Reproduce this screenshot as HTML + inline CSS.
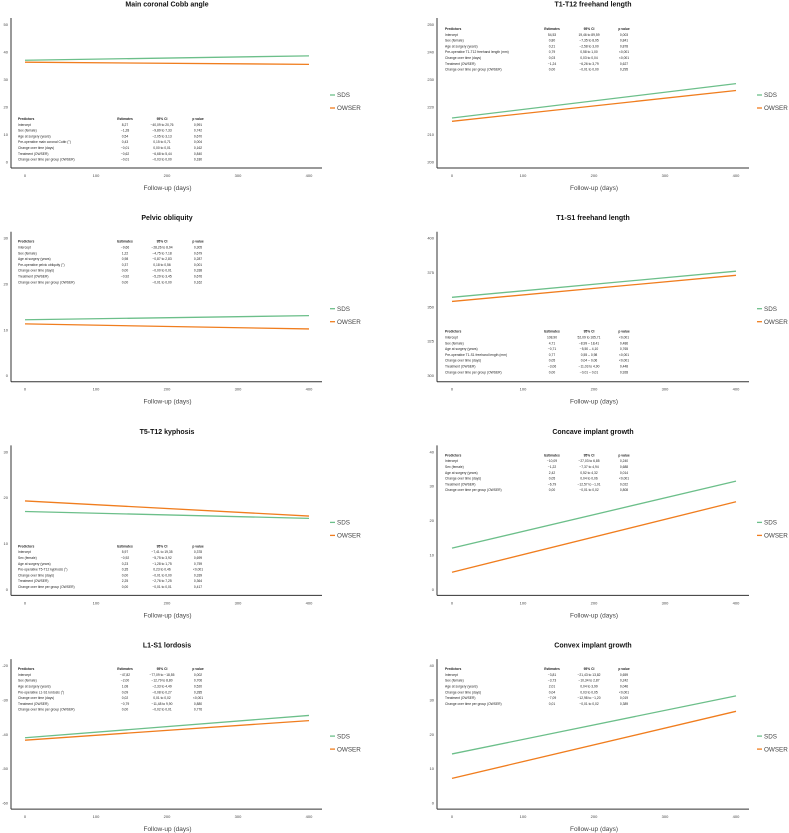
<!DOCTYPE html>
<html><head><meta charset="utf-8"><style>
html,body{margin:0;padding:0;background:#fff}
svg{display:block;font-family:"Liberation Sans",sans-serif}
</style></head><body>
<svg id="fig" width="789" height="833" viewBox="0 0 789 833"></svg>
<script>
const titles=["Main coronal Cobb angle","T1-T12 freehand length","Pelvic obliquity","T1-S1 freehand length","T5-T12 kyphosis","Concave implant growth","L1-S1 lordosis","Convex implant growth"];
const yTicks=[[0,10,20,30,40,50],[200,210,220,230,240,250],[0,10,20,30],[300,325,350,375,400],[0,10,20,30],[0,10,20,30,40],[-60,-50,-40,-30,-20],[0,10,20,30,40]];
const xTicks=[0,100,200,300,400];
const sdsStart=[37,216,12.2,357,17,12,-41,14.3];
const sdsEnd=[38.6,228.5,13.1,376,15.5,31.5,-34.5,31.2];
const owserStart=[36.3,214.8,11.3,354,19.3,5,-41.7,7.2];
const owserEnd=[35.5,226,10.2,373,16,25.5,-36,26.7];
const tableTop=[119,29,28,118,119,28,28,28];
const tableRows=[
[["Intercept","8,27","−40,09 to 20,76","0,991"],["Sex (female)","−1,28","−9,89 to 7,33","0,742"],["Age at surgery (years)","0,54","−2,05 to 3,13","0,670"],["Pre-operative main coronal Cobb (°)","0,43","0,15 to 0,71","0,004"],["Change over time (days)","−0,01","0,00 to 0,01","0,162"],["Treatment (OWSER)","−0,62","−6,68 to 5,44","0,840"],["Change over time per group (OWSER)","−0,01","−0,03 to 0,00","0,180"]],
[["Intercept","54,53","19,46 to 89,59","0,003"],["Sex (female)","0,80","−7,35 to 8,95","0,841"],["Age at surgery (years)","0,21","−2,58 to 3,00","0,878"],["Pre-operative T1-T12 freehand length (mm)","0,79","0,58 to 1,00","<0,001"],["Change over time (days)","0,03","0,03 to 0,04","<0,001"],["Treatment (OWSER)","−1,24","−6,26 to 3,79","0,627"],["Change over time per group (OWSER)","0,00","−0,01 to 0,00","0,295"]],
[["Intercept","−9,66","−28,26 to 8,94","0,305"],["Sex (female)","1,22","−4,75 to 7,18","0,679"],["Age at surgery (years)","0,98","−0,87 to 2,83","0,287"],["Pre-operative pelvic obliquity (°)","0,37","0,18 to 0,56","0,001"],["Change over time (days)","0,00","−0,00 to 0,01","0,338"],["Treatment (OWSER)","−0,92","−5,29 to 3,45","0,676"],["Change over time per group (OWSER)","0,00","−0,01 to 0,00","0,162"]],
[["Intercept","108,90","52,09 to 165,71","<0,001"],["Sex (female)","4,71","−8,99 – 18,41","0,486"],["Age at surgery (years)","−0,71","−5,50 – 4,10","0,765"],["Pre-operative T1-S1 freehand length (mm)","0,77","0,55 – 0,98","<0,001"],["Change over time (days)","0,05","0,04 – 0,06","<0,001"],["Treatment (OWSER)","−3,06","−11,03 to 4,90","0,448"],["Change over time per group (OWSER)","0,00","−0,01 – 0,01","0,928"]],
[["Intercept","5,97","−7,41 to 19,35","0,378"],["Sex (female)","−0,92","−5,75 to 3,92","0,699"],["Age at surgery (years)","0,23","−1,28 to 1,75","0,759"],["Pre-operative T5-T12 kyphosis (°)","0,35","0,23 to 0,46","<0,001"],["Change over time (days)","0,00","−0,01 to 0,00","0,339"],["Treatment (OWSER)","2,25","−2,76 to 7,25","0,364"],["Change over time per group (OWSER)","0,00","−0,01 to 0,01","0,417"]],
[["Intercept","−10,09","−27,03 to 6,85","0,240"],["Sex (female)","−1,22","−7,37 to 4,94","0,688"],["Age at surgery (years)","2,42","0,52 to 4,32","0,014"],["Change over time (days)","0,05","0,04 to 0,06","<0,001"],["Treatment (OWSER)","−6,79","−12,57 to −1,01","0,022"],["Change over time per group (OWSER)","0,00","−0,01 to 0,02","0,808"]],
[["Intercept","−47,82","−77,09 to −18,55","0,002"],["Sex (female)","−2,00","−12,79 to 8,80","0,706"],["Age at surgery (years)","1,08","−2,33 to 4,49","0,520"],["Pre-operative L1-S1 lordosis (°)","0,09","−0,08 to 0,27","0,285"],["Change over time (days)","0,02","0,01 to 0,02","<0,001"],["Treatment (OWSER)","−0,79","−11,48 to 9,90","0,880"],["Change over time per group (OWSER)","0,00","−0,02 to 0,01","0,776"]],
[["Intercept","−3,81","−21,43 to 13,82","0,659"],["Sex (female)","−3,73","−10,34 to 2,87","0,242"],["Age at surgery (years)","2,01","0,04 to 3,99","0,046"],["Change over time (days)","0,04","0,03 to 0,05","<0,001"],["Treatment (OWSER)","−7,09","−12,98 to −1,20","0,019"],["Change over time per group (OWSER)","0,01","−0,01 to 0,02","0,389"]]
];
const NS="http://www.w3.org/2000/svg";
const svg=document.getElementById('fig');
function mk(tag,attrs,parent,txt){const e=document.createElementNS(NS,tag);for(const k in attrs)e.setAttribute(k,attrs[k]);if(txt!==undefined)e.textContent=txt;parent.appendChild(e);return e;}
const GREEN="#6cbf8a",ORANGE="#f07d1e";
for(let i=0;i<8;i++){
  const col=i%2,row=Math.floor(i/2);
  const oy=row*213.7;
  const ax=col?437:11, x0=col?452:25, x1=col?736:309, axEnd=col?749:322, lg=col?757:330, yl=col?434:8, tx=col?593:167;
  const ticks=yTicks[i];const ymin=ticks[0],ymax=ticks[ticks.length-1];
  const yTop=oy+24.5,yBot=oy+162;
  const X=v=>x0+(v-0)/(400-0)*(x1-x0);
  const Y=v=>yBot-(v-ymin)/(ymax-ymin)*(yBot-yTop);
  const g=mk('g',{},svg);
  
  
  const t=mk('text',{x:tx,y:oy+6.5,'text-anchor':'middle','font-size':'7','font-weight':'bold',fill:'#111'},g,titles[i]);
  
  
  const a1=mk('line',{x1:ax,y1:oy+18,x2:ax,y2:oy+168,stroke:'#333','stroke-width':'1'},g);
  
  
  const a2=mk('line',{x1:ax,y1:oy+168,x2:axEnd,y2:oy+168,stroke:'#333','stroke-width':'1'},g);
  
  
  ticks.forEach(v=>{const e=mk('text',{x:yl,y:Y(v)+1.4,'text-anchor':'end','font-size':'4',fill:'#444'},g,String(v));
    
    });
  xTicks.forEach(v=>{const e=mk('text',{x:X(v),y:oy+177,'text-anchor':'middle','font-size':'4',fill:'#444'},g,String(v));
    
    });
  const xl=mk('text',{x:(ax+axEnd)/2+1,y:oy+190,'text-anchor':'middle','font-size':'6.5',fill:'#444'},g,'Follow-up (days)');
  
  
  const s=mk('line',{x1:X(0),y1:Y(sdsStart[i]),x2:X(400),y2:Y(sdsEnd[i]),stroke:GREEN,'stroke-width':'1.3'},g);
  
  
  const o=mk('line',{x1:X(0),y1:Y(owserStart[i]),x2:X(400),y2:Y(owserEnd[i]),stroke:ORANGE,'stroke-width':'1.3'},g);
  
  
  [["SDS",GREEN,95],["OWSER",ORANGE,108]].forEach(([n,c,yy])=>{
    const lgG=mk('g',{},g);
    
    
    mk('line',{x1:lg,y1:oy+yy,x2:lg+5,y2:oy+yy,stroke:c,'stroke-width':'1.3'},lgG);
    mk('text',{x:lg+7,y:oy+yy+2.2,'font-size':'6.3',fill:'#444'},lgG,n);
  });
  const tb=mk('g',{'font-size':'3.3',fill:'#222'},g);
  
  
  const px=col?445:18, ex=col?552:125, cx=col?589:162, pcx=col?624:198;
  const ty=oy+tableTop[i]+1;
  mk('text',{x:px,y:ty,'font-weight':'bold'},tb,'Predictors');
  mk('text',{x:ex,y:ty,'font-weight':'bold','text-anchor':'middle'},tb,'Estimates');
  mk('text',{x:cx,y:ty,'font-weight':'bold','text-anchor':'middle'},tb,'95% CI');
  mk('text',{x:pcx,y:ty,'font-weight':'bold','text-anchor':'middle'},tb,'p value');
  tableRows[i].forEach((r,k)=>{const yy=ty+5.8*(k+1);
    mk('text',{x:px,y:yy},tb,r[0]);
    mk('text',{x:ex,y:yy,'text-anchor':'middle'},tb,r[1]);
    mk('text',{x:cx,y:yy,'text-anchor':'middle'},tb,r[2]);
    mk('text',{x:pcx,y:yy,'text-anchor':'middle'},tb,r[3]);});
}
</script>
</body></html>
